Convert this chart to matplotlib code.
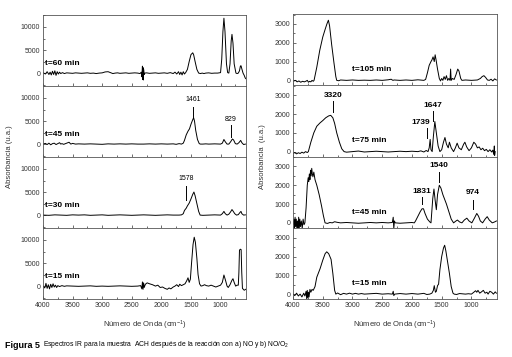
import matplotlib
matplotlib.use("Agg")
import matplotlib.pyplot as plt
from matplotlib.ticker import MultipleLocator

plt.rcParams['font.family'] = ['Liberation Sans', 'DejaVu Sans']
plt.rcParams['mathtext.fontset'] = 'custom'
plt.rcParams['mathtext.rm'] = 'Liberation Sans'
plt.rcParams['mathtext.it'] = 'Liberation Sans:italic'
plt.rcParams['mathtext.bf'] = 'Liberation Sans:bold'

# ---- a) NO : espectros (numero de onda, absorbancia) ----
a60_wn = [4000, 3960, 3930, 3900, 3880, 3860, 3840, 3820, 3800, 3780, 3760, 3740, 3720, 3700, 3670,
          3640, 3600, 3550, 3500, 3450, 3400, 3350, 3300, 3250, 3200, 3150, 3100, 3050, 3000, 2950,
          2900, 2860, 2820, 2780, 2740, 2700, 2650, 2600, 2550, 2500, 2450, 2400, 2360, 2340, 2330,
          2320, 2315, 2310, 2305, 2300, 2290, 2280, 2250, 2200, 2150, 2100, 2050, 2000, 1950, 1900,
          1850, 1800, 1770, 1740, 1710, 1690, 1670, 1650, 1630, 1610, 1590, 1560, 1530, 1500, 1470,
          1455, 1430, 1400, 1370, 1340, 1310, 1280, 1250, 1200, 1150, 1100, 1050, 1000, 980, 960,
          943, 925, 900, 880, 860, 840, 820, 807, 790, 770, 740, 720, 700, 680, 665, 655, 640, 620,
          600, 585, 575]
a60_ab = [100, -200, 300, -300, 200, -400, 400, -300, 500, -500, 300, -200, 200, -100, 100,
          -100, 50, 0, -50, 50, 0, -50, 0, 50, -50, 0, -100, 0, 50, 250,
          300, 100, -100, 0, 50, -50, 0, 50, -50, 0, 50, 0, -100, 200, -800,
          1500, -1400, 1200, -1500, 800, -300, 0, 50, -50, 0, 50, -50, 0, 50, -50,
          100, -100, 200, -200, 300, -300, 200, -400, 300, -200, 100, 800, 2500, 4000, 4400,
          4000, 2500, 800, 0, -100, 0, -100, 0, 50, -50, 0, 0, 100, 3000, 9000,
          11900, 9000, 2000, 100, 0, 2000, 7000, 8400, 6500, 2000, 0, -100, 0, 500, 1500, 1600, 900, 0,
          -500, -1000, -1200]

a45_wn = [4000, 3960, 3930, 3900, 3870, 3840, 3810, 3780, 3750, 3720, 3700, 3680, 3650, 3600, 3560,
          3530, 3500, 3450, 3400, 3300, 3200, 3100, 3000, 2900, 2800, 2700, 2600, 2500, 2400, 2300,
          2200, 2100, 2000, 1900, 1800, 1750, 1700, 1660, 1630, 1610, 1580, 1550, 1525, 1500, 1470,
          1455, 1440, 1420, 1390, 1360, 1340, 1300, 1250, 1200, 1100, 1000, 970, 943, 920, 890,
          860, 830, 800, 780, 750, 720, 690, 660, 640, 610, 580]
a45_ab = [0, 150, -100, 200, -150, 100, 200, -100, 100, 300, 0, 100, -50, 200, 400,
          0, 150, 0, 50, 0, 50, 0, -50, 50, 0, 50, 0, 50, 0, 0,
          50, 0, 50, 0, 50, -50, 100, 0, 200, 800, 2000, 2800, 3300, 4300, 5300,
          5700, 5000, 3000, 1000, 100, 0, 0, 50, 0, 50, 0, 200, 1000, 500, 0,
          0, 500, 1100, 900, 100, 0, 300, 800, 300, -100, 0]

a30_wn = [4000, 3900, 3800, 3700, 3600, 3500, 3400, 3300, 3200, 3100, 3000, 2900, 2800, 2700, 2600,
          2500, 2400, 2300, 2200, 2100, 2000, 1900, 1800, 1700, 1660, 1630, 1610, 1580, 1560, 1530,
          1500, 1470, 1450, 1430, 1400, 1370, 1345, 1300, 1200, 1100, 1000, 970, 943, 920, 890,
          860, 830, 807, 790, 760, 730, 700, 670, 655, 640, 610, 580]
a30_ab = [0, -50, 50, 0, -50, 50, 0, 50, -50, 0, 50, -50, 0, 50, 0,
          -50, 0, 50, 0, -50, 0, 50, 0, 0, 50, 300, 1000, 1500, 2000, 2600,
          3500, 4500, 5000, 4200, 2500, 800, 0, -50, 0, 50, 0, 300, 800, 300, 0,
          200, 700, 1200, 900, 300, 0, 100, 600, 800, 300, 0, 50]

a15_wn = [4000, 3970, 3950, 3930, 3910, 3890, 3870, 3850, 3830, 3810, 3790, 3770, 3750, 3720, 3680,
          3640, 3600, 3500, 3400, 3300, 3200, 3100, 3000, 2900, 2800, 2700, 2600, 2500, 2400, 2350,
          2330, 2320, 2310, 2300, 2290, 2270, 2240, 2200, 2150, 2100, 2060, 2020, 1980, 1940, 1900,
          1870, 1840, 1800, 1770, 1740, 1710, 1690, 1660, 1630, 1600, 1570, 1550, 1530, 1510, 1490,
          1465, 1445, 1425, 1400, 1380, 1355, 1330, 1300, 1270, 1240, 1200, 1160, 1120, 1080, 1040,
          1000, 970, 943, 915, 890, 870, 840, 810, 790, 770, 745, 720, 700, 690, 680,
          665, 652, 642, 630, 600, 575]
a15_ab = [0, -400, 600, -500, 300, -600, 400, -300, 500, -200, 200, -300, 100, -100, 100,
          -50, 50, 0, -50, 0, 50, -50, 0, -50, 0, 50, 0, -50, 0, 100,
          -600, 900, -700, 700, -300, 400, 700, 500, 300, 0, 200, -300, -200, -500, -700,
          -400, -600, -200, 0, 300, -100, 400, 100, 300, 500, 1200, 1800, 800, 1500, 5000,
          9000, 10600, 9500, 6000, 2500, 500, 0, 100, 300, 100, 0, 200, 0, -200, 0,
          200, 800, 2400, 1200, 0, -300, 300, 1200, 1600, 800, 0, 200, 200, 3000, 7800,
          8000, 7900, 3000, -500, -900, -700]

# ---- b) NO/O2 ----
b105_wn = [4000, 3960, 3930, 3900, 3870, 3840, 3810, 3780, 3760, 3740, 3720, 3700, 3680, 3660, 3646,
           3600, 3550, 3500, 3461, 3430, 3405, 3385, 3350, 3310, 3280, 3265, 3230, 3200, 3100, 3000,
           2900, 2800, 2700, 2600, 2500, 2400, 2350, 2320, 2300, 2200, 2100, 2000, 1900, 1800, 1770,
           1740, 1710, 1680, 1665, 1645, 1625, 1610, 1595, 1570, 1540, 1520, 1500, 1480, 1460, 1440,
           1420, 1400, 1380, 1360, 1350, 1340, 1320, 1290, 1260, 1230, 1210, 1180, 1160, 1100, 1000,
           900, 850, 820, 790, 760, 730, 700, 670, 640, 610, 580]
b105_ab = [-50, 0, -80, -30, -100, -50, -80, -40, 0, -100, -50, -80, 0, -50, 0,
           700, 1600, 2300, 2700, 3000, 3200, 2900, 1900, 900, 200, 0, -20, 20, 0, 20,
           0, 10, 0, 20, 0, 30, 60, 0, 20, 0, 20, 0, 30, 0, 50,
           400, 800, 1000, 1080, 1250, 1000, 1360, 1100, 600, 100, -30, 100, 0, 200, 50,
           250, 0, 100, 0, 600, 0, 100, 50, 300, 600, 500, 100, 0, 20, 0,
           20, 100, 200, 250, 150, 20, 0, 60, -30, 80, 20]

b75_wn = [4000, 3970, 3940, 3910, 3880, 3850, 3820, 3790, 3760, 3742, 3700, 3650, 3600, 3545, 3500,
          3450, 3400, 3366, 3330, 3300, 3265, 3220, 3180, 3141, 3100, 3000, 2900, 2800, 2700, 2600,
          2500, 2400, 2300, 2200, 2100, 2000, 1900, 1850, 1800, 1760, 1730, 1710, 1694, 1680, 1660,
          1640, 1615, 1590, 1560, 1530, 1500, 1470, 1445, 1420, 1390, 1370, 1340, 1300, 1270, 1240,
          1210, 1170, 1130, 1110, 1080, 1040, 1000, 960, 930, 900, 870, 840, 810, 780, 750,
          720, 690, 660, 640, 625, 615, 610, 600]
b75_ab = [-100, -50, -120, -60, -100, -30, -80, 0, -50, 0, 500, 1000, 1350, 1530, 1650,
          1800, 1900, 1930, 1800, 1500, 1000, 500, 150, 0, -30, 0, 30, -20, 0, 20,
          0, -20, 0, 20, 0, 20, 0, 40, -20, 60, 0, 200, 650, 100, 0,
          800, 1600, 1000, 300, 0, 100, 500, 750, 400, 200, 500, 200, 0, 200, 450,
          200, 100, 400, 500, 250, 50, 200, 500, 400, 200, 250, 100, 180, 50, 120,
          0, 100, -20, 80, -150, 300, -200, 0]

b45_wn = [4000, 3985, 3975, 3965, 3955, 3945, 3935, 3925, 3915, 3905, 3895, 3885, 3875, 3860, 3845,
          3830, 3815, 3800, 3780, 3760, 3745, 3735, 3725, 3715, 3705, 3695, 3685, 3675, 3665, 3650,
          3630, 3600, 3560, 3520, 3490, 3461, 3420, 3380, 3340, 3300, 3260, 3200, 3100, 3000, 2900,
          2800, 2700, 2600, 2500, 2400, 2330, 2315, 2305, 2295, 2280, 2200, 2100, 2000, 1960, 1940,
          1900, 1860, 1830, 1806, 1780, 1740, 1700, 1680, 1650, 1630, 1610, 1590, 1570, 1540, 1513,
          1480, 1450, 1420, 1380, 1340, 1300, 1260, 1235, 1200, 1160, 1120, 1077, 1040, 993, 950,
          910, 880, 850, 812, 770, 735, 700, 650, 610, 580]
b45_ab = [-100, 200, -300, 300, -200, 200, -300, 100, -400, 300, -300, 200, -200, 100, -300,
          200, -100, 0, 800, 2000, 2400, 2200, 2600, 2300, 2800, 2500, 2900, 2600, 2450, 2700,
          2300, 2000, 1500, 900, 400, 0, -30, 20, 0, 60, 30, 0, 20, 0, -20,
          0, 20, 0, 20, 0, 20, 300, -300, 100, 0, -20, 0, 20, 0, 100,
          350, 600, 750, 750, 500, 200, 50, 0, 1300, 1800, 1200, 700, 1500, 2000, 1850,
          1500, 1250, 1000, 600, 200, 0, 100, 150, 50, 0, 150, 250, 100, 0, 250,
          500, 350, 100, 0, 200, 330, 150, 0, 50, 100]

b15_wn = [4000, 3970, 3940, 3910, 3880, 3850, 3820, 3800, 3780, 3770, 3760, 3750, 3740, 3730, 3715,
          3700, 3680, 3660, 3630, 3600, 3545, 3500, 3460, 3433, 3400, 3360, 3330, 3300, 3280, 3250,
          3200, 3150, 3100, 3050, 3000, 2950, 2900, 2850, 2800, 2700, 2600, 2500, 2400, 2330, 2315,
          2305, 2290, 2200, 2100, 2000, 1900, 1800, 1750, 1700, 1665, 1640, 1625, 1605, 1590, 1570,
          1552, 1530, 1500, 1470, 1450, 1430, 1400, 1370, 1340, 1310, 1290, 1250, 1200, 1100, 1050,
          1000, 960, 930, 910, 890, 860, 830, 800, 770, 740, 720, 690, 660, 630, 600, 580]
b15_ab = [0, -80, 50, -100, 0, -150, 50, -100, 150, -250, 200, -200, 100, -150, 250,
          100, 250, 200, 400, 900, 1350, 1800, 2150, 2250, 2150, 1850, 1100, 200, 0, 60,
          -30, 40, 0, 50, 0, 40, 0, 30, 0, 20, 40, 0, 20, 0, 150,
          -80, 0, 30, 0, 30, 0, 40, -20, 0, 50, 200, 450, 100, 150, 450,
          530, 1300, 2000, 2450, 2600, 2300, 1700, 1100, 400, 50, 0, -20, 30, 0, 20,
          0, 100, 180, 100, 200, 50, 120, 200, 50, 100, 0, 150, 100, 0, 120, 50]

left_spectra = [(a60_wn, a60_ab, 't=60 min'), (a45_wn, a45_ab, 't=45 min'),
                (a30_wn, a30_ab, 't=30 min'), (a15_wn, a15_ab, 't=15 min')]
right_spectra = [(b105_wn, b105_ab, 't=105 min'), (b75_wn, b75_ab, 't=75 min'),
                 (b45_wn, b45_ab, 't=45 min'), (b15_wn, b15_ab, 't=15 min')]

x_ticks = [4000, 3500, 3000, 2500, 2000, 1500, 1000]
left_yticks = [0, 5000, 10000]
right_yticks = [0, 1000, 2000, 3000]

W, H = 512, 357
fig = plt.figure(figsize=(W / 100, H / 100), dpi=100)
fig.patch.set_facecolor('white')

spine_col = '#555555'
tick_col = '#333333'


def make_axes(x0, x1, top, ph, i):
    return fig.add_axes([x0 / W, (H - top - ph * (i + 1)) / H, (x1 - x0) / W, ph / H])


def style(ax, yticks, ylim, ymin, last):
    ax.set_xlim(4000, 570)
    ax.set_ylim(*ylim)
    ax.set_xticks(x_ticks)
    ax.xaxis.set_minor_locator(MultipleLocator(250))
    ax.set_yticks(yticks)
    ax.yaxis.set_minor_locator(MultipleLocator(ymin))
    ax.tick_params(which='both', direction='in', top=False, right=False,
                   labelsize=5, colors=tick_col, pad=2)
    ax.tick_params(which='major', length=2.5, width=0.5)
    ax.tick_params(which='minor', length=1.5, width=0.5)
    for s in ax.spines.values():
        s.set_color(spine_col)
        s.set_linewidth(0.6)
    if not last:
        ax.tick_params(labelbottom=False)


left_axes = []
for i, (wn, ab, lab) in enumerate(left_spectra):
    ax = make_axes(43, 246, 15, 71, i)
    ax.plot(wn, ab, color='black', lw=0.7)
    style(ax, left_yticks, (-2800, 12600), 2500, i == 3)
    ax.text(0.012, 0.32, lab, transform=ax.transAxes, fontsize=6, fontweight='bold',
            ha='left', va='center')
    left_axes.append(ax)

right_axes = []
for i, (wn, ab, lab) in enumerate(right_spectra):
    ax = make_axes(293, 497, 14, 71.25, i)
    ax.plot(wn, ab, color='black', lw=0.7)
    style(ax, right_yticks, (-260, 3530), 500, i == 3)
    ax.text(0.29, 0.22, lab, transform=ax.transAxes, fontsize=6, fontweight='bold',
            ha='left', va='center')
    right_axes.append(ax)


# anotaciones de picos
def mark(ax, wn, y0, y1, yt, bold, xt=None):
    ax.plot([wn, wn], [y0, y1], color='black', lw=0.7)
    ax.text(wn if xt is None else xt, yt, str(wn), ha='center', va='center',
            fontsize=6 if bold else 5, fontweight='bold' if bold else 'normal')


mark(left_axes[1], 1461, 5900, 8000, 9700, False)
mark(left_axes[1], 829, 1600, 4100, 5300, False)
mark(left_axes[2], 1578, 3300, 6300, 7900, False)
mark(right_axes[1], 3320, 2100, 2690, 2960, True)
mark(right_axes[1], 1647, 1630, 2160, 2460, True)
mark(right_axes[1], 1739, 740, 1270, 1540, True, xt=1860)
mark(right_axes[2], 1831, 1020, 1400, 1680, True)
mark(right_axes[2], 1540, 2200, 2680, 3050, True)
mark(right_axes[2], 974, 750, 1240, 1610, True)

fig.text(10 / W, 1 - 157 / H, 'Absorbancia (u.a.)', rotation=90, ha='center', va='center',
         fontsize=5.5, color=tick_col)
fig.text(262 / W, 1 - 157 / H, 'Absorbancia  (u.a.)', rotation=90, ha='center', va='center',
         fontsize=5.5, color=tick_col)
fig.text(145 / W, 1 - 325 / H, 'Número de Onda (cm$^{-1}$)', ha='center', va='center',
         fontsize=5.5, color=tick_col)
fig.text(395 / W, 1 - 325 / H, 'Número de Onda (cm$^{-1}$)', ha='center', va='center',
         fontsize=5.5, color=tick_col)

cap_y = 1 - 345 / H
t1 = fig.text(5 / W, cap_y, 'Figura 5', ha='left', va='center', fontsize=6.5, fontweight='bold')
fig.canvas.draw()
bb = t1.get_window_extent()
fig.text((bb.x1 + 3) / W, cap_y,
         'Espectros IR para la muestra  ACH después de la reacción con a) NO y b) NO/O$_2$',
         ha='left', va='center', fontsize=4.9)

fig.savefig('out.png', dpi=100)
